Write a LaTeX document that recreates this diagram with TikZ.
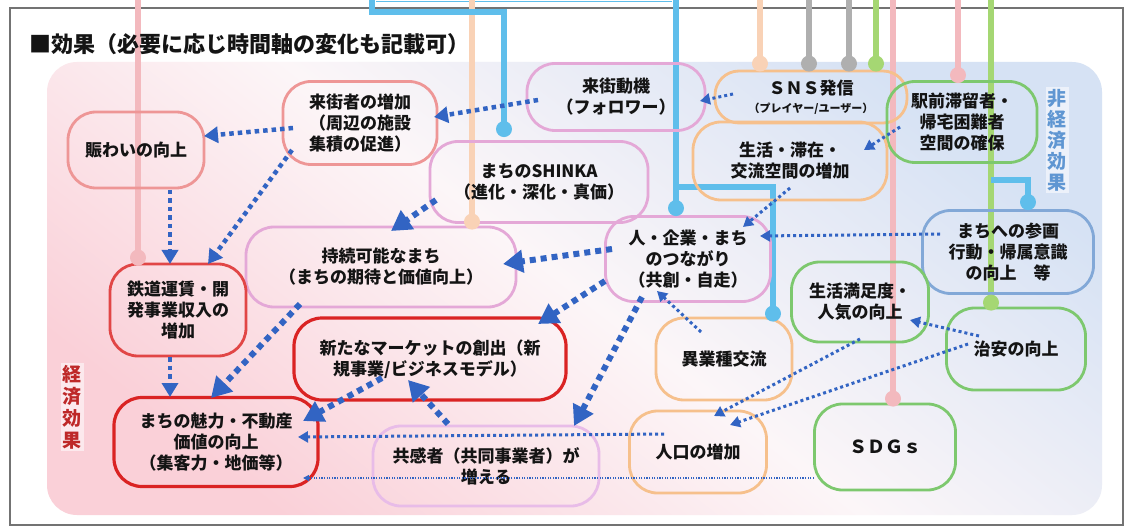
\documentclass[tikz,border=0pt]{standalone}
\usepackage{fontspec}
\setmainfont{Noto Sans CJK JP}
\usetikzlibrary{arrows.meta}
\pgfdeclarelayer{bg}
\pgfdeclarelayer{feeds}
\pgfsetlayers{bg,feeds,main}
\definecolor{arrowblue}{RGB}{50,100,195}
\definecolor{lred}{RGB}{238,150,150}
\definecolor{mag}{RGB}{228,168,215}
\definecolor{org}{RGB}{246,192,140}
\definecolor{grn}{RGB}{125,200,110}
\definecolor{bluebd}{RGB}{130,168,215}
\definecolor{redbd}{RGB}{218,35,35}
\definecolor{redmid}{RGB}{225,70,70}
\definecolor{lav}{RGB}{232,188,232}
\definecolor{linepink}{RGB}{243,185,190}
\definecolor{linepeach}{RGB}{249,210,182}
\definecolor{lineblue}{RGB}{95,190,235}
\definecolor{linegray}{RGB}{175,175,175}
\definecolor{linegreen}{RGB}{165,215,115}
\definecolor{bgpink}{RGB}{250,208,216}
\definecolor{bgmid}{RGB}{252,246,248}
\definecolor{bgblue}{RGB}{214,226,244}
\definecolor{econred}{RGB}{190,40,40}
\definecolor{noneblue}{RGB}{95,150,210}
\definecolor{txt}{RGB}{20,20,20}
\tikzset{
  box/.style={draw, line width=2.8pt, rounded corners=28pt, align=center, inner sep=0pt,
    font=\bfseries\fontsize{17}{21}\selectfont, text=txt},
  feed/.style={line width=6pt},
  heavy/.style={draw=arrowblue, line width=6pt, dash pattern=on 6pt off 5pt, -{Triangle[length=20pt,width=22pt]}},
  medarr/.style={draw=arrowblue, line width=4.5pt, dash pattern=on 4.5pt off 4pt, -{Triangle[length=14pt,width=16pt]}},
  lightarr/.style={draw=arrowblue, line width=3pt, dash pattern=on 3pt off 3pt, -{Triangle[length=10pt,width=11pt]}},
  hairarr/.style={draw=arrowblue, line width=1.3pt, dash pattern=on 1.3pt off 1.3pt, -{Triangle[length=6pt,width=6pt]}},
  sidelabel/.style={align=center, fill=white, fill opacity=0.55, text opacity=1, inner sep=2pt},
}
\begin{document}
\begin{tikzpicture}[x=1pt,y=-1pt]
\useasboundingbox (0,0) rectangle (1126,529);
\begin{pgfonlayer}{bg}
\fill[white] (0,0) rectangle (1126,529);
\draw[black!55, line width=1.5pt] (10,8) rectangle (1123,525);
\shade[rounded corners=30pt, top color=bgblue, bottom color=bgpink, middle color=bgmid, shading angle=-38] (47,62) rectangle (1102,515);
\end{pgfonlayer}
% title
\node[anchor=west, font=\bfseries\fontsize{22}{26}\selectfont, text=txt] (title) at (26,44) {■効果（必要に応じ時間軸の変化も記載可）};

% nodes
\node[box, draw=lred, minimum width=136pt, minimum height=76pt] (A) at (136,150) {賑わいの向上};
\node[box, draw=lred, minimum width=154pt, minimum height=83pt] (B) at (360,123) {来街者の増加\\（周辺の施設\\集積の促進）};
\node[box, draw=mag, minimum width=178pt, minimum height=67pt] (C) at (616,97) {来街動機\\（フォロワー）};
\node[box, draw=org, minimum width=192pt, minimum height=52pt, rounded corners=24pt] (D) at (811,97) {ＳＮＳ発信\\[-3pt]{\fontsize{11}{13}\selectfont （プレイヤー/ユーザー）}};
\node[box, draw=grn, minimum width=150pt, minimum height=81pt] (E) at (962,122) {駅前滞留者・\\帰宅困難者\\空間の確保};
\node[box, draw=org, minimum width=194pt, minimum height=78pt] (F) at (790,161) {生活・滞在・\\交流空間の増加};
\node[box, draw=mag, minimum width=218pt, minimum height=81pt] (G) at (539,182) {まちのSHINKA\\（進化・深化・真価）};
\node[box, draw=mag, minimum width=270pt, minimum height=80pt] (H) at (381,267) {持続可能なまち\\（まちの期待と価値向上）};
\node[box, draw=mag, minimum width=165pt, minimum height=85pt] (I) at (688,259) {人・企業・まち\\のつながり\\（共創・自走）};
\node[box, draw=bluebd, minimum width=171pt, minimum height=83pt] (J) at (1008,252) {まちへの参画\\行動・帰属意識\\の向上　等};
\node[box, draw=grn, minimum width=137pt, minimum height=80pt] (K) at (860,302) {生活満足度・\\人気の向上};
\node[box, draw=redmid, minimum width=136pt, minimum height=92pt] (L) at (178,310) {鉄道運賃・開\\発事業収入の\\増加};
\node[box, draw=redbd, line width=3.2pt, minimum width=272pt, minimum height=82pt] (M) at (430,359) {新たなマーケットの創出（新\\規事業/ビジネスモデル）};
\node[box, draw=org, minimum width=136pt, minimum height=82pt] (N) at (724,359) {異業種交流};
\node[box, draw=grn, minimum width=139pt, minimum height=82pt] (O) at (1016,349) {治安の向上};
\node[box, draw=redbd, line width=3.2pt, minimum width=204pt, minimum height=89pt] (P) at (216,442) {まちの魅力・不動産\\価値の向上\\（集客力・地価等）};
\node[box, draw=lav, minimum width=226pt, minimum height=80pt] (Q) at (486,466) {共感者（共同事業者）が\\増える};
\node[box, draw=org, minimum width=137pt, minimum height=82pt] (R) at (698,452) {人口の増加};
\node[box, draw=grn, minimum width=141pt, minimum height=86pt, font=\bfseries\fontsize{18}{21}\selectfont] (S) at (885,447) {ＳＤＧｓ};

% feed lines from above (free ends as coordinates)
\coordinate (tL) at (138,0);
\coordinate (tH) at (472,0);
\coordinate (tG1) at (372,0);
\coordinate (tG2) at (372,12);
\coordinate (tG3) at (504,12);
\coordinate (tI) at (676,0);
\coordinate (bI) at (676,187);
\coordinate (bI2) at (773,187);
\coordinate (tD1) at (760,0);
\coordinate (tD2) at (809,0);
\coordinate (tD3) at (849,0);
\coordinate (tD4) at (876,0);
\coordinate (tS) at (893,0);
\coordinate (tE) at (958,0);
\coordinate (tO) at (991,0);
\coordinate (bJ1) at (991,180);
\coordinate (bJ2) at (1028,180);

\path (tL |- L.north) ++(0,-5) coordinate (dL);
\path (tH |- H.north) ++(0,-4) coordinate (dH);
\path (tG3 |- G.north) ++(0,-11) coordinate (dG);
\path (tI |- I.north) ++(0,-7) coordinate (dI);
\path (bI2 |- N.north) ++(0,-3) coordinate (dN);
\path (tD1 |- D.north) ++(0,-6) coordinate (dD1);
\path (tD2 |- D.north) ++(0,-6) coordinate (dD2);
\path (tD3 |- D.north) ++(0,-6) coordinate (dD3);
\path (tD4 |- D.north) ++(0,-6) coordinate (dD4);
\path (tS |- S.north) ++(0,-4) coordinate (dS);
\path (tE |- E.north) ++(0,-5) coordinate (dE);
\path (tO |- O.north) ++(0,-4) coordinate (dO);
\path (bJ2 |- J.north) ++(0,-7) coordinate (dJ);

\begin{pgfonlayer}{feeds}
\draw[lineblue, line width=1.6pt] (376,1.5) -- (672,1.5);
\draw[feed, linepink] (tL) -- (dL);
\draw[feed, linepeach] (tH) -- (dH);
\draw[feed, lineblue] (tG1) -- (tG2) -- (tG3) -- (dG);
\draw[feed, lineblue] (tI) -- (dI);
\draw[feed, lineblue] (bI) -- (bI2) -- (dN);
\draw[feed, linepeach] (tD1) -- (dD1);
\draw[feed, linegray] (tD2) -- (dD2);
\draw[feed, linegray] (tD3) -- (dD3);
\draw[feed, linegreen] (tD4) -- (dD4);
\draw[feed, linepink] (tS) -- (dS);
\draw[feed, linepink] (tE) -- (dE);
\draw[feed, linegreen] (tO) -- (dO);
\draw[feed, lineblue] (bJ1) -- (bJ2) -- (dJ);
\end{pgfonlayer}
\fill[linepink] (dL) circle (8pt);
\fill[linepeach] (dH) circle (8pt);
\fill[lineblue] (dG) circle (8pt);
\fill[lineblue] (dI) circle (8pt);
\fill[lineblue] (dN) circle (8pt);
\fill[linepeach] (dD1) circle (8pt);
\fill[linegray] (dD2) circle (8pt);
\fill[linegray] (dD3) circle (8pt);
\fill[linegreen] (dD4) circle (8pt);
\fill[linepink] (dS) circle (8pt);
\fill[linepink] (dE) circle (8pt);
\fill[linegreen] (dO) circle (8pt);
\fill[lineblue] (dJ) circle (8pt);

% arrows
\draw[medarr] ([shift={(-78,3)}]C.center) -- ([shift={(74,-6)}]B.center);
\draw[medarr] ([shift={(-67,5)}]B.center) -- ([shift={(68,-14)}]A.center);
\draw[medarr] ([shift={(-68,27)}]B.center) -- ([shift={(30,-46)}]L.center);
\draw[medarr] ([shift={(34,40)}]A.center) -- ([shift={(-8,-46)}]L.center);
\draw[lightarr] ([shift={(-78,-3)}]D.center) -- ([shift={(84,4)}]C.center);
\draw[lightarr] ([shift={(-62,5)}]E.center) -- ([shift={(74,-11)}]F.center);
\draw[heavy] ([shift={(-103,18)}]G.center) -- ([shift={(10,-36)}]H.center);
\draw[heavy] ([shift={(-76,-10)}]I.center) -- ([shift={(122,-3)}]H.center);
\draw[lightarr] ([shift={(0,27)}]F.center) -- ([shift={(55,-32)}]I.center);
\draw[lightarr] ([shift={(-68,-18)}]J.center) -- ([shift={(72,-23)}]I.center);
\draw[heavy] ([shift={(-83,22)}]I.center) -- ([shift={(108,-35)}]M.center);
\draw[heavy] ([shift={(-46,38)}]I.center) -- ([shift={(88,-40)}]Q.center);
\draw[lightarr] ([shift={(-23,-27)}]N.center) -- ([shift={(-31,32)}]I.center);
\draw[heavy] ([shift={(-81,37)}]H.center) -- ([shift={(-5,-44)}]P.center);
\draw[medarr] ([shift={(-8,47)}]L.center) -- ([shift={(-46,-45)}]P.center);
\draw[heavy] ([shift={(-48,19)}]M.center) -- ([shift={(87,-21)}]P.center);
\draw[heavy] ([shift={(-38,-42)}]Q.center) -- ([shift={(-22,21)}]M.center);
\draw[lightarr] ([shift={(-34,-18)}]R.center) -- ([shift={(82,-5)}]P.center);
\draw[hairarr] ([shift={(-71,31)}]S.center) -- ([shift={(87,36)}]P.center);
\draw[lightarr] ([shift={(-37,-13)}]O.center) -- ([shift={(50,18)}]K.center);
\draw[lightarr] ([shift={(-48,-5)}]O.center) -- ([shift={(32,-27)}]R.center);
\draw[lightarr] ([shift={(0,37)}]K.center) -- ([shift={(16,-36)}]R.center);

% side labels
\node[sidelabel, font=\bfseries\fontsize{19}{22}\selectfont, text=econred] (econ) at (72,407) {経\\済\\効\\果};
\node[sidelabel, font=\bfseries\fontsize{19}{21}\selectfont, text=noneblue] (nonecon) at (1057,140) {非\\経\\済\\効\\果};
\end{tikzpicture}
\end{document}
